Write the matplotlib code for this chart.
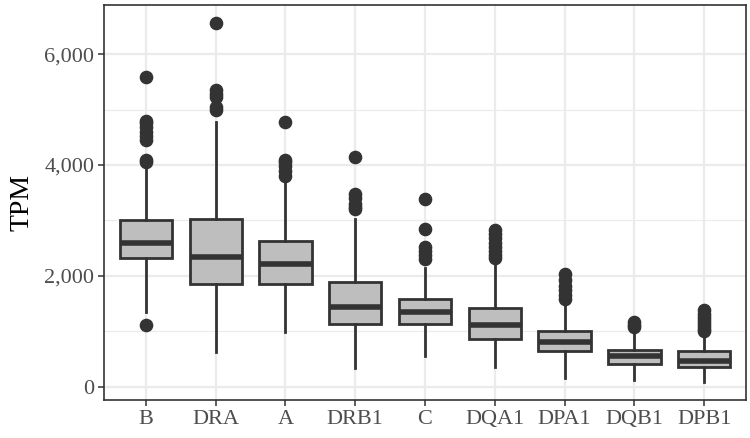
import matplotlib
matplotlib.use('Agg')
import matplotlib.pyplot as plt
from matplotlib.ticker import FuncFormatter, MultipleLocator

# DATA
genes = ['B', 'DRA', 'A', 'DRB1', 'C', 'DQA1', 'DPA1', 'DQB1', 'DPB1']
q1 = [2325, 1853, 1853, 1130, 1133, 857, 647, 408, 354]
med = [2602, 2332, 2207, 1444, 1343, 1115, 809, 545, 468]
q3 = [3016, 3034, 2626, 1894, 1577, 1427, 1013, 665, 635]
whislo = [1354, 617, 995, 336, 558, 354, 156, 113, 85]
whishi = [3962, 4772, 3723, 3034, 2134, 2194, 1457, 966, 978]
fliers = [
    [5580, 4800, 4750, 4680, 4600, 4520, 4450, 4100, 4050, 1110],
    [6570, 5350, 5280, 5220, 5040, 4990],
    [4780, 4100, 4050, 3980, 3900, 3800],
    [4150, 3480, 3400, 3300, 3250, 3200],
    [3390, 2840, 2520, 2450, 2380, 2300],
    [2820, 2750, 2680, 2600, 2520, 2450, 2380, 2320],
    [2030, 1920, 1820, 1750, 1650, 1580],
    [1170, 1120, 1070],
    [1380, 1320, 1260, 1200, 1150, 1100, 1050, 1010],
]

LINE = '#333333'
FILL = '#BEBEBE'
GRID = '#EBEBEB'

plt.rcParams['font.family'] = ['Liberation Serif', 'DejaVu Serif']

# BUILD FIGURE
# ############################################################################
fig = plt.figure(figsize=(7.5, 4.38), dpi=100)
ax = fig.add_axes([0.1387, 0.0868, 0.856, 0.902])

stats = []
for i, g in enumerate(genes):
    stats.append({'label': g, 'q1': q1[i], 'med': med[i], 'q3': q3[i],
                  'whislo': whislo[i], 'whishi': whishi[i],
                  'fliers': fliers[i]})

positions = list(range(1, len(genes) + 1))
ax.bxp(stats, positions=positions, widths=0.75, patch_artist=True,
       showcaps=False,
       boxprops=dict(facecolor=FILL, edgecolor=LINE, linewidth=2.0),
       medianprops=dict(color=LINE, linewidth=4.0, solid_capstyle='butt'),
       whiskerprops=dict(color=LINE, linewidth=2.0),
       flierprops=dict(marker='o', markersize=8.8, markerfacecolor=LINE,
                       markeredgecolor=LINE, linestyle='none'),
       zorder=3)

ax.set_xlim(0.4, len(genes) + 0.6)
ax.set_ylim(-240, 6890)

ax.yaxis.set_major_locator(MultipleLocator(2000))
ax.yaxis.set_minor_locator(MultipleLocator(1000))
ax.yaxis.set_major_formatter(FuncFormatter(lambda v, p: f'{int(v):,}'))
ax.set_xticks(positions)
ax.set_xticklabels(genes)

ax.grid(which='major', color=GRID, linewidth=1.6, zorder=0)
ax.grid(which='minor', axis='y', color=GRID, linewidth=0.8, zorder=0)
ax.set_axisbelow(True)

for s in ax.spines.values():
    s.set_color(LINE)
    s.set_linewidth(1.2)

ax.tick_params(which='major', length=4, width=1.1, color=LINE,
               labelsize=16, labelcolor='#4D4D4D', pad=3)
ax.tick_params(which='minor', length=0)
ax.set_ylabel('TPM', fontsize=20, color='black', labelpad=7)

fig.savefig('out.png', dpi=100)
